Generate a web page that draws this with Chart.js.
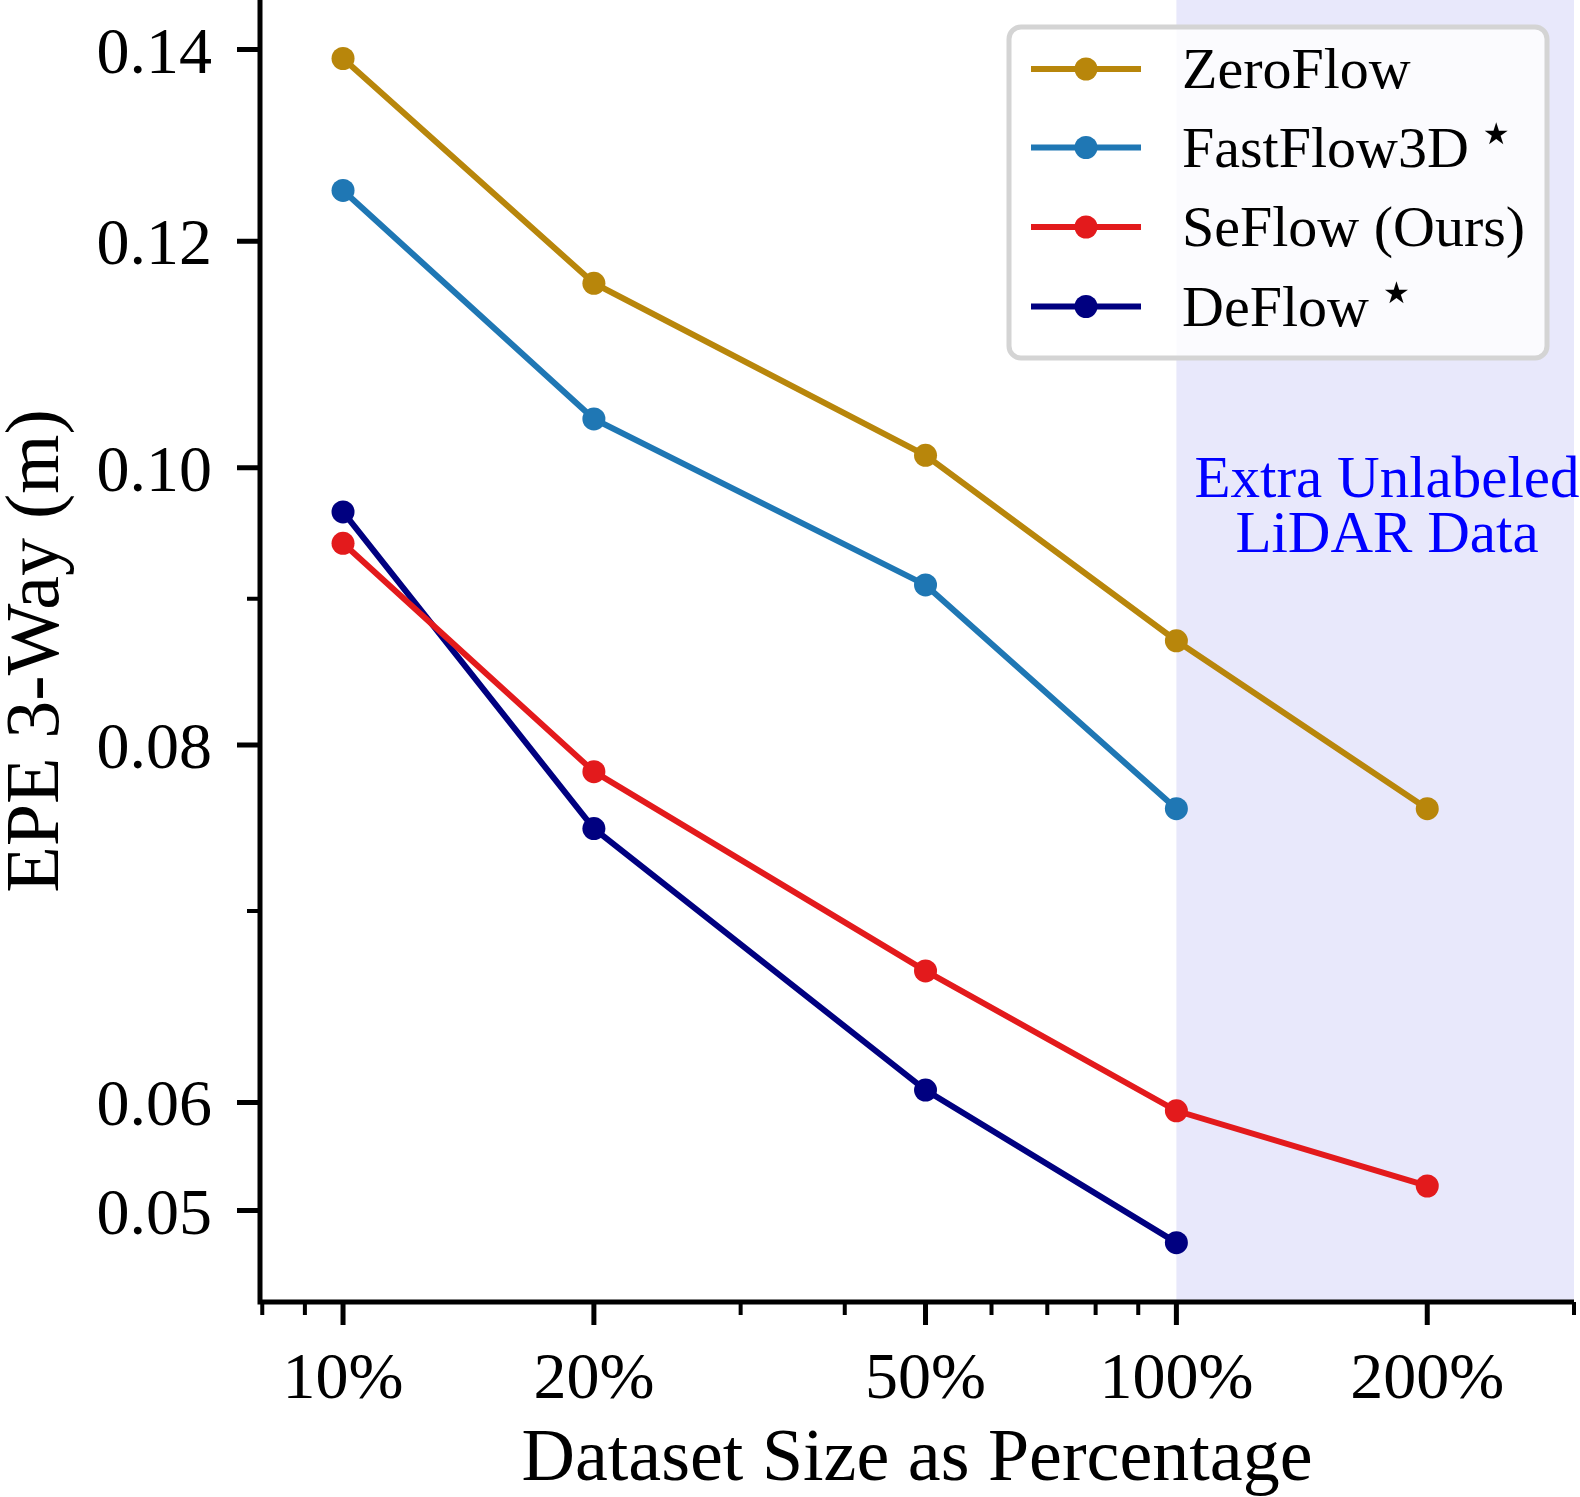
<!DOCTYPE html>
<html><head><meta charset="utf-8">
<script src="https://cdn.jsdelivr.net/npm/chart.js@4.4.1/dist/chart.umd.min.js"></script>
<style>html,body{margin:0;padding:0;background:#fff;} #wrap{width:1580px;height:1497px;position:relative;}</style>
</head><body><div id="wrap"><canvas id="c"></canvas></div>
<script>
const datasetSizes = [10, 20, 50, 100, 200];
const xTickLabels = ['10%', '20%', '50%', '100%', '200%'];
const xMinorTicks = [8, 9, 30, 40, 60, 70, 80, 90, 300];
const yTickValues = [0.055, 0.06, 0.08, 0.10, 0.12, 0.14];
const yTickLabels = ['0.05', '0.06', '0.08', '0.10', '0.12', '0.14'];
const yMinorTicks = [0.07, 0.09];
const seriesNames = ['ZeroFlow', 'FastFlow3D', 'SeFlow (Ours)', 'DeFlow'];
const seriesMarks = ['', '\u2605', '', '\u2605'];
const seriesColors = ['#b8860b', '#1f77b4', '#e31a1c', '#000080'];
const zeroFlowEPE = [0.139, 0.116, 0.101, 0.087, 0.076];
const fastFlow3dEPE = [0.125, 0.104, 0.091, 0.076];
const seFlowEPE = [0.0941, 0.0783, 0.0667, 0.0596, 0.0561];
const deFlowEPE = [0.0965, 0.0748, 0.0606, 0.0536];
const xRange = [7.95, 300];
const yRange = [0.0511, 0.1457];
const shadeStart = 100;
const shadeText = ['Extra Unlabeled', 'LiDAR Data'];
const xTitle = 'Dataset Size as Percentage';
const yTitle = 'EPE 3-Way (m)';

const SERIF = '"Liberation Serif", "DejaVu Serif", serif';
const allSeries = [zeroFlowEPE, fastFlow3dEPE, seFlowEPE, deFlowEPE];

const datasets = allSeries.map((vals, i) => ({
  label: seriesNames[i],
  data: vals.map((v, j) => ({ x: datasetSizes[j], y: v })),
  borderColor: seriesColors[i],
  backgroundColor: seriesColors[i],
  pointBackgroundColor: seriesColors[i],
  pointBorderWidth: 0,
  pointRadius: 11.5,
  borderWidth: 6,
  tension: 0,
  fill: false,
  clip: false
}));

const decor = {
  id: 'decor',
  beforeDatasetsDraw(chart) {
    const { ctx, chartArea: a, scales: { x } } = chart;
    ctx.save();
    const x0 = x.getPixelForValue(shadeStart);
    ctx.fillStyle = '#e8e8fb';
    ctx.fillRect(x0, a.top, a.right - x0, a.bottom - a.top);
    ctx.restore();
  },
  afterDatasetsDraw(chart) {
    const { ctx } = chart;
    ctx.save();
    ctx.fillStyle = '#0000ff';
    ctx.font = '59px ' + SERIF;
    ctx.textAlign = 'center';
    ctx.textBaseline = 'alphabetic';
    const cx = 1387;
    ctx.fillText(shadeText[0], cx, 497);
    ctx.fillText(shadeText[1], cx, 552);
    ctx.restore();
  },
  afterDraw(chart) {
    const { ctx, chartArea: a, scales: { x, y } } = chart;
    ctx.save();
    ctx.strokeStyle = '#000';
    ctx.fillStyle = '#000';
    // spines
    ctx.lineWidth = 5;
    ctx.lineCap = 'butt';
    ctx.beginPath();
    ctx.moveTo(a.left, 0);
    ctx.lineTo(a.left, a.bottom + 2.5);
    ctx.moveTo(a.left - 2.5, a.bottom);
    ctx.lineTo(a.right, a.bottom);
    ctx.stroke();
    // x ticks
    ctx.lineWidth = 5;
    ctx.beginPath();
    datasetSizes.forEach(v => {
      const px = x.getPixelForValue(v);
      ctx.moveTo(px, a.bottom); ctx.lineTo(px, a.bottom + 23);
    });
    ctx.stroke();
    ctx.lineWidth = 4;
    ctx.beginPath();
    xMinorTicks.forEach(v => {
      const px = x.getPixelForValue(v);
      ctx.moveTo(px, a.bottom); ctx.lineTo(px, a.bottom + 13);
    });
    ctx.stroke();
    // y ticks
    ctx.lineWidth = 5;
    ctx.beginPath();
    yTickValues.forEach(v => {
      const py = y.getPixelForValue(v);
      ctx.moveTo(a.left, py); ctx.lineTo(a.left - 23, py);
    });
    ctx.stroke();
    ctx.lineWidth = 4;
    ctx.beginPath();
    yMinorTicks.forEach(v => {
      const py = y.getPixelForValue(v);
      ctx.moveTo(a.left, py); ctx.lineTo(a.left - 13, py);
    });
    ctx.stroke();
    // tick labels
    ctx.font = '66px ' + SERIF;
    ctx.textBaseline = 'alphabetic';
    ctx.textAlign = 'right';
    yTickValues.forEach((v, i) => {
      ctx.fillText(yTickLabels[i], 212, y.getPixelForValue(v) + 23);
    });
    ctx.textAlign = 'center';
    datasetSizes.forEach((v, i) => {
      ctx.fillText(xTickLabels[i], x.getPixelForValue(v), 1398);
    });
    // titles
    ctx.font = '74px ' + SERIF;
    ctx.fillText(xTitle, (a.left + a.right) / 2, 1480);
    ctx.save();
    ctx.font = '76px ' + SERIF;
    ctx.translate(58, 651);
    ctx.rotate(-Math.PI / 2);
    ctx.fillText(yTitle, 0, 0);
    ctx.restore();
    // legend
    const lx = 1009, ly = 27, lw = 538, lh = 331;
    ctx.beginPath();
    ctx.roundRect(lx, ly, lw, lh, 12);
    ctx.fillStyle = 'rgba(255,255,255,0.8)';
    ctx.fill();
    ctx.lineWidth = 5;
    ctx.strokeStyle = '#d4d4d4';
    ctx.stroke();
    const rows = [69, 147.5, 227, 306.5];
    chart.data.datasets.forEach((ds, i) => {
      const ry = rows[i];
      ctx.strokeStyle = ds.borderColor;
      ctx.lineWidth = 6;
      ctx.beginPath();
      ctx.moveTo(1031, ry); ctx.lineTo(1141, ry);
      ctx.stroke();
      ctx.fillStyle = ds.borderColor;
      ctx.beginPath();
      ctx.arc(1086, ry, 11.5, 0, Math.PI * 2);
      ctx.fill();
      ctx.fillStyle = '#000';
      ctx.font = '58px ' + SERIF;
      ctx.textAlign = 'left';
      ctx.fillText(ds.label, 1182, ry + 19);
      if (seriesMarks[i]) {
        const w = ctx.measureText(ds.label).width;
        ctx.font = '30px "DejaVu Sans"';
        ctx.fillText(seriesMarks[i], 1182 + w + 14, ry - 4);
      }
    });
    ctx.restore();
  }
};

new Chart(document.getElementById('c'), {
  type: 'line',
  data: { datasets },
  options: {
    responsive: true,
    maintainAspectRatio: false,
    animation: false,
    layout: { autoPadding: false, padding: { left: 0, right: 6, top: 0, bottom: 0 } },
    plugins: { legend: { display: false }, tooltip: { enabled: false } },
    scales: {
      x: {
        type: 'logarithmic', min: xRange[0], max: xRange[1],
        grid: { display: false }, border: { display: false },
        ticks: { display: false },
        afterFit(s) { s.height = 195; }
      },
      y: {
        type: 'logarithmic', min: yRange[0], max: yRange[1],
        grid: { display: false }, border: { display: false },
        ticks: { display: false },
        afterFit(s) { s.width = 260; }
      }
    }
  },
  plugins: [decor]
});
</script>
</body></html>
